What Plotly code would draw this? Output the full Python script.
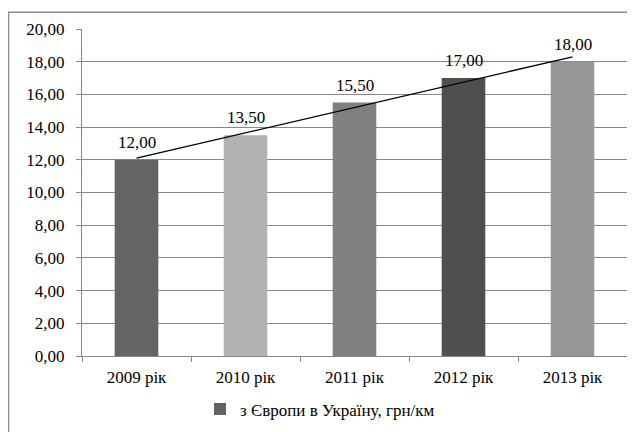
import numpy as np
import plotly.graph_objects as go

categories = ["2009 рік", "2010 рік", "2011 рік", "2012 рік", "2013 рік"]
values = [12.00, 13.50, 15.50, 17.00, 18.00]
bar_colors = ["#646464", "#b2b2b2", "#808080", "#4f4f4f", "#969696"]
series_name = "з Європи в Україну, грн/км"
y_ticks = [0, 2, 4, 6, 8, 10, 12, 14, 16, 18, 20]

# linear trend line (least squares fit, as in the source chart)
idx = np.arange(1, len(values) + 1)
slope, intercept = np.polyfit(idx, values, 1)
trend = [slope * i + intercept for i in idx]

FONT = "Liberation Serif"
GRID = "#888888"
FS = 17

fig = go.Figure()
fig.add_trace(go.Bar(
    x=categories, y=values, name=series_name,
    marker=dict(color=bar_colors, line=dict(width=0)),
    width=0.4,
    showlegend=True,
))
fig.add_trace(go.Scatter(
    x=categories, y=trend, mode="lines",
    line=dict(color="black", width=1.3),
    showlegend=False, hoverinfo="skip",
))

# data labels above bars
annotations = [
    dict(x=c, y=v, xref="x", yref="y", text=f"{v:.2f}".replace(".", ","),
         showarrow=False, yanchor="bottom", yshift=6,
         font=dict(family=FONT, size=FS, color="black"))
    for c, v in zip(categories, values)
]

# page is offset by the 8px body margin
OFF = 8
W, H = 635, 432
L, R, T, B = 82 - OFF, 16, 27 - OFF, 83
pw, ph = W - L - R, H - T - B

def px_to_paper_x(px):
    return (px - OFF - L) / pw

def px_to_paper_y(py):
    return (H - B - (py - OFF)) / ph

fig.update_layout(
    width=W, height=H,
    margin=dict(l=L, r=R, t=T, b=B),
    paper_bgcolor="white", plot_bgcolor="white",
    separators=", ",
    font=dict(family=FONT, size=FS, color="black"),
    legend=dict(orientation="h", x=px_to_paper_x(200), xanchor="left",
                y=px_to_paper_y(411), yanchor="middle",
                font=dict(family=FONT, size=FS, color="black"),
                itemwidth=30),
    annotations=annotations,
    xaxis=dict(
        showline=True, linecolor=GRID, linewidth=1,
        ticks="outside", ticklen=5, tickcolor=GRID, tickson="boundaries",
        showgrid=False, tickfont=dict(family=FONT, size=FS),
        ticklabelstandoff=6,
    ),
    yaxis=dict(
        range=[0, 20], tickvals=y_ticks, tickformat=".2f",
        showline=True, linecolor=GRID, linewidth=1,
        ticks="outside", ticklen=5, tickcolor=GRID,
        showgrid=True, gridcolor=GRID, gridwidth=1,
        zeroline=False, tickfont=dict(family=FONT, size=FS),
        ticklabelstandoff=8,
    ),
    shapes=[dict(
        type="rect", xref="paper", yref="paper",
        x0=px_to_paper_x(8.5), x1=px_to_paper_x(660),
        y0=px_to_paper_y(460), y1=px_to_paper_y(10),
        line=dict(color="#8a8a8a", width=1.5), fillcolor="rgba(0,0,0,0)",
        layer="below",
    )],
)

fig.write_html("out.html")
